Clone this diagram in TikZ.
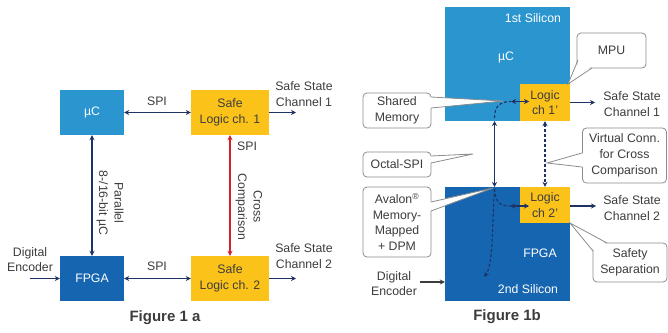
\documentclass[tikz,border=0pt]{standalone}
\usepackage{fontspec}
\setmainfont{Liberation Sans}
\usetikzlibrary{arrows.meta}
\definecolor{lblue}{HTML}{2A95CF}
\definecolor{dblue}{HTML}{1565B0}
\definecolor{yel}{HTML}{FBC31A}
\definecolor{navy}{HTML}{1E3264}
\definecolor{redc}{HTML}{D42027}
\definecolor{txt}{HTML}{3C3C3C}
\definecolor{cgray}{HTML}{8C8C8C}
\tikzset{
  blk/.style={rectangle, inner sep=0pt, minimum width=#1},
  lbbox/.style={blk=64pt, minimum height=45pt, fill=lblue, text=white},
  dbbox/.style={blk=64pt, minimum height=45pt, fill=dblue, text=white},
  ybox/.style={blk=78pt, minimum height=45pt, fill=yel, text=txt, align=center},
  lab/.style={text=txt, align=center, inner sep=0pt},
  wlab/.style={text=white, inner sep=0pt},
  arr/.style={draw=navy, line width=1.1pt, {Stealth[length=5pt,width=5pt]}-{Stealth[length=5pt,width=5pt]}},
  arrr/.style={draw=navy, line width=1.1pt, -{Stealth[length=5pt,width=5pt]}},
  dsh/.style={dash pattern=on 3pt off 2pt},
  cbox/.style={draw=cgray, fill=white, line width=0.8pt, rounded corners=4pt, text=txt, align=center, inner sep=0pt},
  tailline/.style={draw=cgray, line width=0.8pt},
  fig/.style={text=txt, font=\fontsize{15}{18}\selectfont\bfseries}
}
\begin{document}
\begin{tikzpicture}[x=1pt,y=-1pt, font=\fontsize{12.3}{15.5}\selectfont]
\useasboundingbox (0,0) rectangle (668,332);
% ---------------- Figure 1a ----------------
\node[lbbox] (uc) at (92,112.5) {µC};
\node[dbbox] (fpga) at (92,278.5) {FPGA};
\node[ybox] (sl1) at (230,112.5) {Safe\\Logic ch. 1};
\node[ybox] (sl2) at (230,278.5) {Safe\\Logic ch. 2};
\draw[arr] (uc.east) -- (sl1.west);
\draw[arr] (fpga.east) -- (sl2.west);
\draw[arr] (uc.south) -- (fpga.north);
\draw[line width=1.1pt, draw=redc, {Stealth[length=5pt,width=5pt]}-{Stealth[length=5pt,width=5pt]}] (sl1.south) -- (sl2.north);
\node[lab] (spi1) at (157,101) {SPI};
\node[lab] (spi2) at (157,266) {SPI};
\node[lab] (spi3) at (247,146) {SPI};
\node[lab, rotate=-90] (par) at (110,203) {Parallel\\8-/16-bit µC};
\node[lab, rotate=-90] (cc) at (249,207) {Cross\\Comparison};
\coordinate (o1) at (296,112.5);
\coordinate (o2) at (296,278.5);
\draw[arrr] (sl1.east) -- (o1);
\draw[arrr] (sl2.east) -- (o2);
\node[lab] (ss1) at (304,94) {Safe State\\Channel 1};
\node[lab] (ss2) at (304,256) {Safe State\\Channel 2};
\node[lab] (de1) at (30,259.5) {Digital\\Encoder};
\coordinate (i1) at (30,278.5);
\draw[arrr] (i1) -- (fpga.west);
\node[fig] (f1a) at (165,318) {Figure 1 a};
% ---------------- Figure 1b ----------------
\node[rectangle, inner sep=0pt, minimum width=125pt, minimum height=114pt, fill=lblue] (sil1) at (507.5,64) {};
\node[rectangle, inner sep=0pt, minimum width=125pt, minimum height=114pt, fill=dblue] (sil2) at (507.5,244) {};
\node[rectangle, inner sep=0pt, minimum width=50pt, minimum height=37pt, fill=yel, text=txt, align=center] (lg1) at (545,102.5) {Logic\\ch 1’};
\node[rectangle, inner sep=0pt, minimum width=50pt, minimum height=36pt, fill=yel, text=txt, align=center] (lg2) at (545,205) {Logic\\ch 2’};
\node[wlab] (t1s) at (533,18) {1st Silicon};
\node[wlab] (tuc) at (506,57) {µC};
\node[wlab] (tfp) at (540,253) {FPGA};
\node[wlab] (t2s) at (528,289) {2nd Silicon};
% connections
\coordinate (va) at (494.5,121);
\coordinate (vb) at (494.5,187);
\draw[arr] (va) -- (vb);
\draw[arr, dsh] (lg1.south) -- (lg2.north);
\coordinate (c1s) at (494.5,118);
\coordinate (c1e) at (511,101.5);
\coordinate (c1f) at (529,101.5);
\draw[draw=navy, line width=1.1pt, dsh] (c1s) .. controls (494.5,106) and (500,101.5) .. (c1e);
\draw[arr] (c1e) -- (c1f);
\coordinate (c2s) at (494.5,189);
\coordinate (c2e) at (510,206);
\coordinate (c2f) at (529,206);
\draw[draw=navy, line width=1.1pt, dsh] (c2s) .. controls (495,202) and (500,206) .. (c2e);
\draw[arr] (c2e) -- (c2f);
\coordinate (c3e) at (484,277);
\draw[draw=navy, line width=1.1pt, dsh, -{Stealth[length=5pt,width=5pt,open]}] (c2s) .. controls (492,230) and (493,265) .. (c3e);
% outputs
\coordinate (o3) at (595,102.5);
\coordinate (o4) at (596,206);
\draw[arrr] (lg1.east) -- (o3);
\draw[arrr] (lg2.east |- o4) -- (o4);
\node[lab] (ss3) at (632,104) {Safe State\\Channel 1};
\node[lab] (ss4) at (632,208) {Safe State\\Channel 2};
\node[lab] (de2) at (394,283.5) {Digital\\Encoder};
\coordinate (i2) at (420,282);
\draw[draw=txt, line width=1.1pt, -{Stealth[length=5pt,width=5pt]}] (i2) -- (sil2.west |- i2);
\node[fig] (f1b) at (507,317) {Figure 1b};
% callouts
\node[cbox, minimum width=69pt, minimum height=35pt] (mpu) at (611.5,50.5) {MPU};
\fill[white] (579.5,60) -- (591,66.6) -- (568,84) -- cycle;
\draw[tailline] (578,60) -- (568,84) -- (592,68);
\node[cbox, minimum width=68pt, minimum height=35pt] (shm) at (397,110.5) {Shared\\Memory};
\fill[white] (429.5,97) -- (429.5,108) -- (503,101) -- cycle;
\draw[tailline] (431,97) -- (503,101) -- (431,108);
\node[cbox, minimum width=68pt, minimum height=25pt] (osp) at (397,164.5) {Octal-SPI};
\fill[white] (429.5,156) -- (429.5,163) -- (473,154) -- cycle;
\draw[tailline] (431,156) -- (473,154) -- (431,163);
\node[cbox, minimum width=68pt, minimum height=70pt] (ava) at (397,222) {Avalon\textsuperscript{®}\\Memory-\\Mapped\\+ DPM};
\fill[white] (429.5,202) -- (429.5,211) -- (493,188) -- cycle;
\draw[tailline] (431,202) -- (493,188) -- (431,211);
\node[cbox, minimum width=84pt, minimum height=55pt, font=\fontsize{12.3}{16}\selectfont] (vcc) at (624.5,155.5) {Virtual Conn.\\for Cross\\Comparison};
\fill[white] (583.5,153) -- (583.5,167) -- (547,163) -- cycle;
\draw[tailline] (582,153) -- (547,163) -- (582,167);
\node[cbox, minimum width=74pt, minimum height=39pt] (ssp) at (630,262.5) {Safety\\Separation};
\fill[white] (594.5,251) -- (607,244.5) -- (570,223) -- cycle;
\draw[tailline] (593,251) -- (570,223) -- (607,243);
\end{tikzpicture}
\end{document}
